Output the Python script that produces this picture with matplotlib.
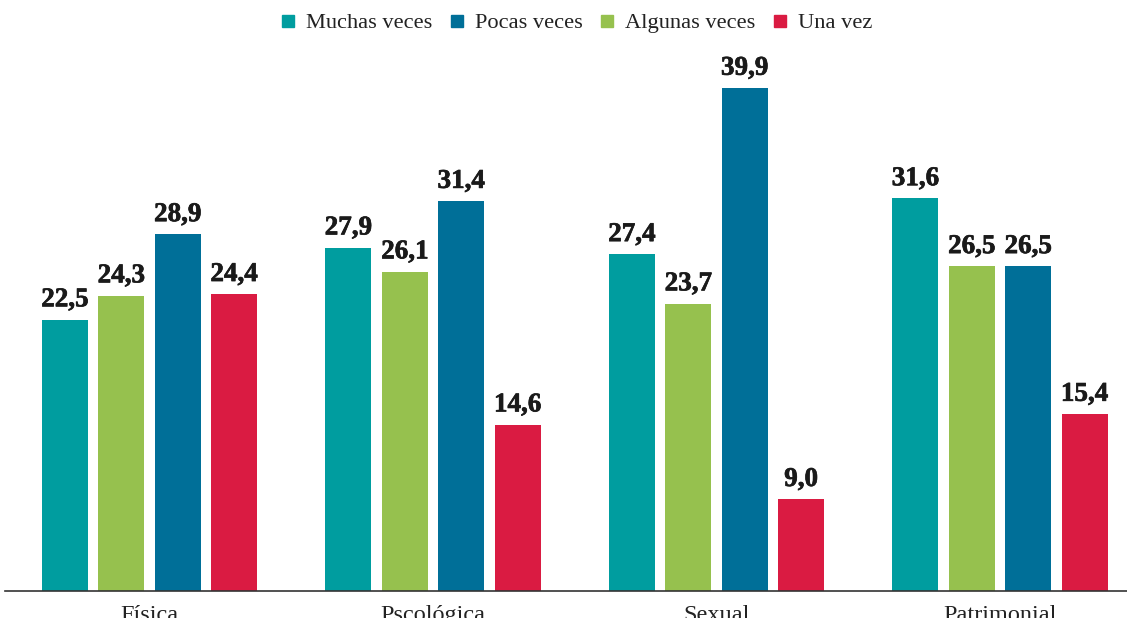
import matplotlib
matplotlib.use("Agg")

import matplotlib.pyplot as plt
import matplotlib.patheffects as pe
from matplotlib.lines import Line2D
import numpy as np

categories = ["Física", "Pscológica", "Sexual", "Patrimonial"]

muchas_veces = [22.5, 27.9, 27.4, 31.6]
algunas_veces = [24.3, 26.1, 23.7, 26.5]
pocas_veces = [28.9, 31.4, 39.9, 26.5]
una_vez = [24.4, 14.6, 9.0, 15.4]

# bar order inside each group
series = [
    ("Muchas veces", muchas_veces, "#009D9F"),
    ("Algunas veces", algunas_veces, "#96C14E"),
    ("Pocas veces", pocas_veces, "#006F98"),
    ("Una vez", una_vez, "#DA1B42"),
]
legend_order = ["Muchas veces", "Pocas veces", "Algunas veces", "Una vez"]

SERIF = "Liberation Serif"

fig = plt.figure(figsize=(11.27, 6.18), dpi=100)
ax = fig.add_axes([0.0044, 27 / 618, 0.9956, 531 / 618])

x = np.arange(len(categories))
pitch = 0.199
width = 0.162

colors = {}
for i, (name, values, color) in enumerate(series):
    offs = (i - 1.5) * pitch
    bars = ax.bar(x + offs, values, width=width, color=color, zorder=2)
    colors[name] = color
    for bar, v in zip(bars, values):
        ax.annotate(
            f"{v:.1f}".replace(".", ","),
            (bar.get_x() + bar.get_width() / 2, bar.get_height()),
            xytext=(0, 9.5),
            textcoords="offset points",
            ha="center",
            va="baseline",
            fontsize=19.5,
            fontweight="bold",
            family=SERIF,
            color="#1a1a1a",
            path_effects=[pe.withStroke(linewidth=0.5, foreground="#1a1a1a")],
        )

ax.set_xlim(-0.51, 3.448)
ax.set_ylim(2.1, 42.0)

for side in ("top", "right", "left"):
    ax.spines[side].set_visible(False)
ax.spines["bottom"].set_color("#333333")
ax.spines["bottom"].set_linewidth(1.2)
ax.set_yticks([])
ax.set_xticks(x)
ax.set_xticklabels(categories, family=SERIF, fontsize=17.5, color="#222222")
ax.tick_params(axis="x", length=0, pad=10)

handles = [
    Line2D([], [], marker="s", linestyle="none", markersize=8.6,
           color=colors[n], label=n)
    for n in legend_order
]
fig.legend(
    handles=handles,
    loc="center",
    bbox_to_anchor=(576 / 1127, 1 - 23 / 618),
    ncol=4,
    frameon=False,
    prop={"family": SERIF, "size": 16.1},
    handlelength=0.7,
    handletextpad=0.45,
    columnspacing=0.75,
    labelcolor="#222222",
)

fig.savefig("out.png", dpi=100)
